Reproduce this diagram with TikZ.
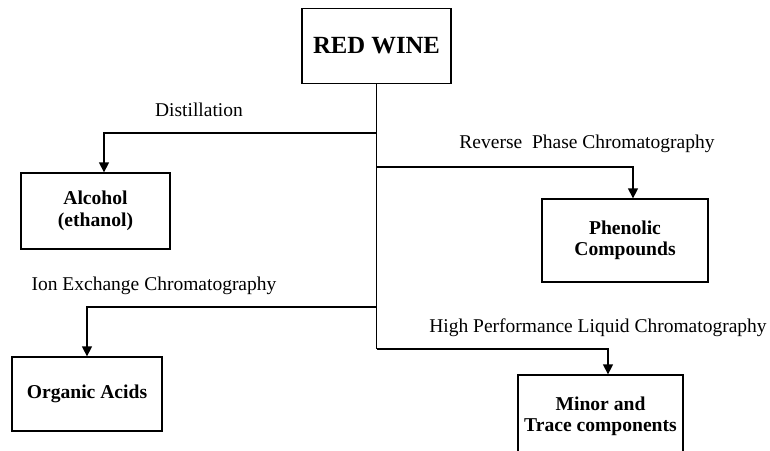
\documentclass[tikz,border=0pt]{standalone}
\usepackage{fontspec}
\setmainfont{Liberation Serif}
\usetikzlibrary{arrows.meta}
\begin{document}
\begin{tikzpicture}[x=1pt,y=-1pt,
  box/.style={draw,line width=1.3pt,inner sep=0pt,align=center,font=\fontsize{19.6}{21.5}\selectfont\bfseries},
  lab/.style={inner sep=0pt,anchor=base,font=\fontsize{19.5}{22}\selectfont},
  conn/.style={line width=1.3pt},
  arr/.style={conn,-{Triangle[length=10pt,width=10pt]}}]
\useasboundingbox (0,0) rectangle (770,450);
\node[box,minimum width=149pt,minimum height=75pt,font=\fontsize{24.7}{28}\selectfont\bfseries] (wine) at (376.5,46) {RED WINE};
\node[box,minimum width=149pt,minimum height=76pt] (alc) at (95.5,211) {Alcohol\\(ethanol)};
\node[box,minimum width=166pt,minimum height=83pt] (phen) at (625,240.5) {Phenolic\\Compounds};
\node[box,minimum width=150pt,minimum height=74pt] (org) at (87,394) {Organic Acids};
\node[box,minimum width=165pt,minimum height=86pt,text depth=8pt] (minor) at (600.5,418) {Minor and\\Trace components};
\coordinate (b1) at (376.5,133);
\coordinate (b2) at (376.5,167);
\coordinate (b3) at (376.5,307);
\coordinate (b4) at (376.5,349);
\draw[conn] (wine.south) -- (b4);
\draw[arr] (b1) -| ([xshift=8.5pt]alc.north);
\draw[arr] (b2) -| ([xshift=8pt]phen.north);
\draw[arr] (b3) -| (org.north);
\draw[arr] (b4) -| ([xshift=7.5pt]minor.north);
\node[lab] (l1) at (199,116) {Distillation};
\node[lab] (l2) at (587,148) {Reverse\ \ Phase Chromatography};
\node[lab] (l3) at (154,290) {Ion Exchange Chromatography};
\node[lab] (l4) at (598,332) {High Performance Liquid Chromatography};
\end{tikzpicture}
\end{document}
